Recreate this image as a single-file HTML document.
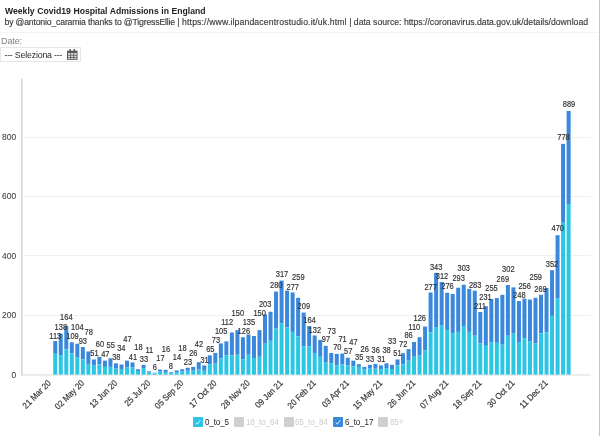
<!DOCTYPE html>
<html><head><meta charset="utf-8"><title>Weekly Covid19 Hospital Admissions in England</title>
<style>
html,body{margin:0;padding:0;background:#fff;}
body{width:600px;height:436px;position:relative;overflow:hidden;will-change:transform;font-family:"Liberation Sans",Arial,sans-serif;}
.title{position:absolute;left:5px;top:4.0px;font-size:9.9px;font-weight:bold;color:#222;white-space:nowrap;word-spacing:0.2px;line-height:14px;transform:scaleX(0.875);transform-origin:0 0;}
.sub{position:absolute;top:16.2px;font-size:8.66px;white-space:pre;color:#3a3a3a;-webkit-text-stroke:0.15px #3a3a3a;line-height:12px;}
.hr{position:absolute;left:0;top:32px;width:598px;height:1px;background:#f3f3f3;}
.date{position:absolute;left:1px;top:34.8px;font-size:9px;letter-spacing:-0.1px;color:#808080;line-height:12px;}
.sel{position:absolute;left:0px;top:47px;width:78.5px;height:13px;border:1px solid #e6e6e6;box-sizing:content-box;}
.sel span{position:absolute;left:3.4px;top:0.5px;font-size:8.8px;letter-spacing:-0.19px;color:#2a2a2a;line-height:13px;white-space:nowrap;}
.rb{position:absolute;left:598.5px;top:0;width:1.5px;height:436px;background:#c4c4c4;}
svg{position:absolute;left:0;top:0;}
.yl{font-size:9.2px;fill:#444;stroke:#444;stroke-width:0.1px;text-anchor:end;}
.bl{font-size:8.3px;fill:#333;stroke:#333;stroke-width:0.18px;text-anchor:middle;}
.xl{font-size:8.7px;fill:#333;stroke:#333;stroke-width:0.18px;text-anchor:end;}
.leg{position:absolute;top:416.8px;height:10px;font-size:9.3px;line-height:10px;white-space:nowrap;letter-spacing:-0.1px;transform:scaleX(0.86);transform-origin:0 0;}
.cb{position:absolute;top:417px;width:10px;height:10px;border-radius:1px;}
</style></head><body>
<div class="title">Weekly Covid19 Hospital Admissions in England</div>
<div class="sub" style="left:4.5px;letter-spacing:-0.164px">by @antonio_caramia thanks to @TigressEllie </div><div class="sub" style="left:177.2px;letter-spacing:0.137px">| https://www.ilpandacentrostudio.it/uk.html </div><div class="sub" style="left:349.2px;letter-spacing:0px">| data source: https://coronavirus.data.gov.uk/details/download</div>
<div class="hr"></div>
<div class="date">Date:</div>
<div class="sel"><span>--- Seleziona ---</span>
<svg width="11" height="11" viewBox="0 0 11 11" style="left:66px;top:1px">
<rect x="0" y="1.7" width="10.5" height="9.2" fill="#585858"/>
<rect x="2.4" y="0" width="1.5" height="2.6" fill="#585858"/><rect x="6.6" y="0" width="1.5" height="2.6" fill="#585858"/>
<g fill="#e4e4e4"><rect x="1" y="4" width="2.2" height="1.8"/><rect x="4.1" y="4" width="2.2" height="1.8"/><rect x="7.2" y="4" width="2.3" height="1.8"/>
<rect x="1" y="6.6" width="2.2" height="1.5"/><rect x="4.1" y="6.6" width="2.2" height="1.5"/><rect x="7.2" y="6.6" width="2.3" height="1.5"/>
<rect x="1" y="8.9" width="2.2" height="1.2"/><rect x="4.1" y="8.9" width="2.2" height="1.2"/><rect x="7.2" y="8.9" width="2.3" height="1.2"/></g>
</svg></div>
<svg width="600" height="436" viewBox="0 0 600 436" style="font-family:'Liberation Sans',Arial,sans-serif">
<line x1="21" y1="315.5" x2="591" y2="315.5" stroke="#f1f1f1" stroke-width="1"/>
<text transform="translate(16.1,318.0) scale(0.92,1)" class="yl">200</text>
<line x1="21" y1="255.5" x2="591" y2="255.5" stroke="#f1f1f1" stroke-width="1"/>
<text transform="translate(16.1,258.7) scale(0.92,1)" class="yl">400</text>
<line x1="21" y1="196.5" x2="591" y2="196.5" stroke="#f1f1f1" stroke-width="1"/>
<text transform="translate(16.1,199.3) scale(0.92,1)" class="yl">600</text>
<line x1="21" y1="137.5" x2="591" y2="137.5" stroke="#f1f1f1" stroke-width="1"/>
<text transform="translate(16.1,140.0) scale(0.92,1)" class="yl">800</text>
<text transform="translate(16.1,377.7) scale(0.92,1)" class="yl">0</text>
<line x1="21" y1="375" x2="591" y2="375" stroke="#dcdcdc" stroke-width="1.2"/>
<line x1="21.8" y1="78.8" x2="21.8" y2="375.6" stroke="#d6d6d6" stroke-width="1.6"/>
<rect x="53.25" y="341.08" width="4.0" height="12.75" fill="#3a88dc"/>
<rect x="53.25" y="353.84" width="4.0" height="20.76" fill="#2ac6e4"/>
<rect x="58.77" y="333.67" width="4.0" height="21.36" fill="#3a88dc"/>
<rect x="58.77" y="355.02" width="4.0" height="19.58" fill="#2ac6e4"/>
<rect x="64.29" y="325.96" width="4.0" height="23.43" fill="#3a88dc"/>
<rect x="64.29" y="349.39" width="4.0" height="25.21" fill="#2ac6e4"/>
<rect x="69.81" y="342.27" width="4.0" height="11.27" fill="#3a88dc"/>
<rect x="69.81" y="353.54" width="4.0" height="21.06" fill="#2ac6e4"/>
<rect x="75.33" y="343.75" width="4.0" height="13.94" fill="#3a88dc"/>
<rect x="75.33" y="357.69" width="4.0" height="16.91" fill="#2ac6e4"/>
<rect x="80.85" y="347.02" width="4.0" height="12.46" fill="#3a88dc"/>
<rect x="80.85" y="359.47" width="4.0" height="15.13" fill="#2ac6e4"/>
<rect x="86.37" y="351.47" width="4.0" height="12.46" fill="#3a88dc"/>
<rect x="86.37" y="363.92" width="4.0" height="10.68" fill="#2ac6e4"/>
<rect x="91.89" y="359.47" width="4.0" height="6.23" fill="#3a88dc"/>
<rect x="91.89" y="365.70" width="4.0" height="8.90" fill="#2ac6e4"/>
<rect x="97.41" y="356.80" width="4.0" height="7.71" fill="#3a88dc"/>
<rect x="97.41" y="364.52" width="4.0" height="10.08" fill="#2ac6e4"/>
<rect x="102.93" y="360.66" width="4.0" height="6.23" fill="#3a88dc"/>
<rect x="102.93" y="366.89" width="4.0" height="7.71" fill="#2ac6e4"/>
<rect x="108.45" y="358.29" width="4.0" height="8.60" fill="#3a88dc"/>
<rect x="108.45" y="366.89" width="4.0" height="7.71" fill="#2ac6e4"/>
<rect x="113.97" y="363.33" width="4.0" height="5.34" fill="#3a88dc"/>
<rect x="113.97" y="368.67" width="4.0" height="5.93" fill="#2ac6e4"/>
<rect x="119.49" y="364.52" width="4.0" height="4.45" fill="#3a88dc"/>
<rect x="119.49" y="368.96" width="4.0" height="5.64" fill="#2ac6e4"/>
<rect x="125.01" y="360.66" width="4.0" height="6.82" fill="#3a88dc"/>
<rect x="125.01" y="367.48" width="4.0" height="7.12" fill="#2ac6e4"/>
<rect x="130.53" y="362.44" width="4.0" height="5.04" fill="#3a88dc"/>
<rect x="130.53" y="367.48" width="4.0" height="7.12" fill="#2ac6e4"/>
<rect x="136.05" y="369.26" width="4.0" height="1.78" fill="#3a88dc"/>
<rect x="136.05" y="371.04" width="4.0" height="3.56" fill="#2ac6e4"/>
<rect x="141.57" y="364.81" width="4.0" height="3.26" fill="#3a88dc"/>
<rect x="141.57" y="368.07" width="4.0" height="6.53" fill="#2ac6e4"/>
<rect x="147.09" y="371.34" width="4.0" height="1.19" fill="#3a88dc"/>
<rect x="147.09" y="372.52" width="4.0" height="2.08" fill="#2ac6e4"/>
<rect x="152.61" y="372.82" width="4.0" height="0.59" fill="#3a88dc"/>
<rect x="152.61" y="373.41" width="4.0" height="1.19" fill="#2ac6e4"/>
<rect x="158.13" y="369.56" width="4.0" height="2.08" fill="#3a88dc"/>
<rect x="158.13" y="371.63" width="4.0" height="2.97" fill="#2ac6e4"/>
<rect x="163.65" y="369.85" width="4.0" height="2.08" fill="#3a88dc"/>
<rect x="163.65" y="371.93" width="4.0" height="2.67" fill="#2ac6e4"/>
<rect x="169.17" y="372.23" width="4.0" height="0.89" fill="#3a88dc"/>
<rect x="169.17" y="373.12" width="4.0" height="1.48" fill="#2ac6e4"/>
<rect x="174.69" y="370.45" width="4.0" height="1.78" fill="#3a88dc"/>
<rect x="174.69" y="372.23" width="4.0" height="2.37" fill="#2ac6e4"/>
<rect x="180.21" y="369.26" width="4.0" height="2.37" fill="#3a88dc"/>
<rect x="180.21" y="371.63" width="4.0" height="2.97" fill="#2ac6e4"/>
<rect x="185.73" y="367.78" width="4.0" height="2.97" fill="#3a88dc"/>
<rect x="185.73" y="370.74" width="4.0" height="3.86" fill="#2ac6e4"/>
<rect x="191.25" y="366.89" width="4.0" height="3.86" fill="#3a88dc"/>
<rect x="191.25" y="370.74" width="4.0" height="3.86" fill="#2ac6e4"/>
<rect x="196.77" y="362.14" width="4.0" height="7.42" fill="#3a88dc"/>
<rect x="196.77" y="369.56" width="4.0" height="5.04" fill="#2ac6e4"/>
<rect x="202.29" y="365.41" width="4.0" height="5.34" fill="#3a88dc"/>
<rect x="202.29" y="370.74" width="4.0" height="3.86" fill="#2ac6e4"/>
<rect x="207.81" y="355.32" width="4.0" height="8.90" fill="#3a88dc"/>
<rect x="207.81" y="364.22" width="4.0" height="10.38" fill="#2ac6e4"/>
<rect x="213.33" y="352.95" width="4.0" height="10.68" fill="#3a88dc"/>
<rect x="213.33" y="363.63" width="4.0" height="10.97" fill="#2ac6e4"/>
<rect x="218.85" y="343.46" width="4.0" height="14.83" fill="#3a88dc"/>
<rect x="218.85" y="358.29" width="4.0" height="16.31" fill="#2ac6e4"/>
<rect x="224.37" y="341.38" width="4.0" height="13.94" fill="#3a88dc"/>
<rect x="224.37" y="355.32" width="4.0" height="19.28" fill="#2ac6e4"/>
<rect x="229.89" y="332.48" width="4.0" height="22.84" fill="#3a88dc"/>
<rect x="229.89" y="355.32" width="4.0" height="19.28" fill="#2ac6e4"/>
<rect x="235.41" y="330.11" width="4.0" height="24.62" fill="#3a88dc"/>
<rect x="235.41" y="354.73" width="4.0" height="19.87" fill="#2ac6e4"/>
<rect x="240.93" y="337.23" width="4.0" height="21.95" fill="#3a88dc"/>
<rect x="240.93" y="359.18" width="4.0" height="15.42" fill="#2ac6e4"/>
<rect x="246.45" y="334.56" width="4.0" height="20.17" fill="#3a88dc"/>
<rect x="246.45" y="354.73" width="4.0" height="19.87" fill="#2ac6e4"/>
<rect x="251.97" y="336.04" width="4.0" height="21.95" fill="#3a88dc"/>
<rect x="251.97" y="357.99" width="4.0" height="16.61" fill="#2ac6e4"/>
<rect x="257.49" y="330.11" width="4.0" height="26.69" fill="#3a88dc"/>
<rect x="257.49" y="356.80" width="4.0" height="17.80" fill="#2ac6e4"/>
<rect x="263.01" y="314.39" width="4.0" height="29.36" fill="#3a88dc"/>
<rect x="263.01" y="343.75" width="4.0" height="30.85" fill="#2ac6e4"/>
<rect x="268.53" y="311.72" width="4.0" height="29.07" fill="#3a88dc"/>
<rect x="268.53" y="340.79" width="4.0" height="33.81" fill="#2ac6e4"/>
<rect x="274.05" y="291.55" width="4.0" height="37.07" fill="#3a88dc"/>
<rect x="274.05" y="328.63" width="4.0" height="45.97" fill="#2ac6e4"/>
<rect x="279.57" y="280.58" width="4.0" height="42.71" fill="#3a88dc"/>
<rect x="279.57" y="323.29" width="4.0" height="51.31" fill="#2ac6e4"/>
<rect x="285.09" y="290.66" width="4.0" height="36.78" fill="#3a88dc"/>
<rect x="285.09" y="327.44" width="4.0" height="47.16" fill="#2ac6e4"/>
<rect x="290.61" y="292.44" width="4.0" height="39.45" fill="#3a88dc"/>
<rect x="290.61" y="331.89" width="4.0" height="42.71" fill="#2ac6e4"/>
<rect x="296.13" y="297.78" width="4.0" height="38.56" fill="#3a88dc"/>
<rect x="296.13" y="336.34" width="4.0" height="38.26" fill="#2ac6e4"/>
<rect x="301.65" y="312.61" width="4.0" height="33.52" fill="#3a88dc"/>
<rect x="301.65" y="346.13" width="4.0" height="28.47" fill="#2ac6e4"/>
<rect x="307.17" y="325.96" width="4.0" height="20.17" fill="#3a88dc"/>
<rect x="307.17" y="346.13" width="4.0" height="28.47" fill="#2ac6e4"/>
<rect x="312.69" y="335.45" width="4.0" height="17.50" fill="#3a88dc"/>
<rect x="312.69" y="352.95" width="4.0" height="21.65" fill="#2ac6e4"/>
<rect x="318.21" y="339.90" width="4.0" height="16.91" fill="#3a88dc"/>
<rect x="318.21" y="356.80" width="4.0" height="17.80" fill="#2ac6e4"/>
<rect x="323.73" y="345.83" width="4.0" height="16.31" fill="#3a88dc"/>
<rect x="323.73" y="362.14" width="4.0" height="12.46" fill="#2ac6e4"/>
<rect x="329.25" y="352.95" width="4.0" height="10.68" fill="#3a88dc"/>
<rect x="329.25" y="363.63" width="4.0" height="10.97" fill="#2ac6e4"/>
<rect x="334.77" y="353.84" width="4.0" height="11.57" fill="#3a88dc"/>
<rect x="334.77" y="365.41" width="4.0" height="9.19" fill="#2ac6e4"/>
<rect x="340.29" y="353.54" width="4.0" height="10.68" fill="#3a88dc"/>
<rect x="340.29" y="364.22" width="4.0" height="10.38" fill="#2ac6e4"/>
<rect x="345.81" y="357.69" width="4.0" height="7.71" fill="#3a88dc"/>
<rect x="345.81" y="365.41" width="4.0" height="9.19" fill="#2ac6e4"/>
<rect x="351.33" y="360.66" width="4.0" height="5.64" fill="#3a88dc"/>
<rect x="351.33" y="366.30" width="4.0" height="8.30" fill="#2ac6e4"/>
<rect x="356.85" y="364.22" width="4.0" height="2.67" fill="#3a88dc"/>
<rect x="356.85" y="366.89" width="4.0" height="7.71" fill="#2ac6e4"/>
<rect x="362.37" y="366.89" width="4.0" height="2.67" fill="#3a88dc"/>
<rect x="362.37" y="369.56" width="4.0" height="5.04" fill="#2ac6e4"/>
<rect x="367.89" y="364.81" width="4.0" height="3.86" fill="#3a88dc"/>
<rect x="367.89" y="368.67" width="4.0" height="5.93" fill="#2ac6e4"/>
<rect x="373.41" y="363.92" width="4.0" height="4.75" fill="#3a88dc"/>
<rect x="373.41" y="368.67" width="4.0" height="5.93" fill="#2ac6e4"/>
<rect x="378.93" y="365.41" width="4.0" height="3.86" fill="#3a88dc"/>
<rect x="378.93" y="369.26" width="4.0" height="5.34" fill="#2ac6e4"/>
<rect x="384.45" y="363.33" width="4.0" height="4.75" fill="#3a88dc"/>
<rect x="384.45" y="368.07" width="4.0" height="6.53" fill="#2ac6e4"/>
<rect x="389.97" y="364.81" width="4.0" height="4.15" fill="#3a88dc"/>
<rect x="389.97" y="368.96" width="4.0" height="5.64" fill="#2ac6e4"/>
<rect x="395.49" y="359.47" width="4.0" height="5.93" fill="#3a88dc"/>
<rect x="395.49" y="365.41" width="4.0" height="9.19" fill="#2ac6e4"/>
<rect x="401.01" y="353.24" width="4.0" height="11.27" fill="#3a88dc"/>
<rect x="401.01" y="364.52" width="4.0" height="10.08" fill="#2ac6e4"/>
<rect x="406.53" y="349.09" width="4.0" height="11.57" fill="#3a88dc"/>
<rect x="406.53" y="360.66" width="4.0" height="13.94" fill="#2ac6e4"/>
<rect x="412.05" y="341.97" width="4.0" height="14.83" fill="#3a88dc"/>
<rect x="412.05" y="356.80" width="4.0" height="17.80" fill="#2ac6e4"/>
<rect x="417.57" y="337.23" width="4.0" height="18.39" fill="#3a88dc"/>
<rect x="417.57" y="355.62" width="4.0" height="18.98" fill="#2ac6e4"/>
<rect x="423.09" y="326.55" width="4.0" height="23.73" fill="#3a88dc"/>
<rect x="423.09" y="350.28" width="4.0" height="24.32" fill="#2ac6e4"/>
<rect x="428.61" y="292.44" width="4.0" height="39.74" fill="#3a88dc"/>
<rect x="428.61" y="332.19" width="4.0" height="42.41" fill="#2ac6e4"/>
<rect x="434.13" y="272.87" width="4.0" height="54.87" fill="#3a88dc"/>
<rect x="434.13" y="327.74" width="4.0" height="46.86" fill="#2ac6e4"/>
<rect x="439.65" y="282.06" width="4.0" height="43.60" fill="#3a88dc"/>
<rect x="439.65" y="325.66" width="4.0" height="48.94" fill="#2ac6e4"/>
<rect x="445.17" y="292.74" width="4.0" height="37.37" fill="#3a88dc"/>
<rect x="445.17" y="330.11" width="4.0" height="44.49" fill="#2ac6e4"/>
<rect x="450.69" y="293.92" width="4.0" height="39.15" fill="#3a88dc"/>
<rect x="450.69" y="333.08" width="4.0" height="41.52" fill="#2ac6e4"/>
<rect x="456.21" y="287.70" width="4.0" height="44.19" fill="#3a88dc"/>
<rect x="456.21" y="331.89" width="4.0" height="42.71" fill="#2ac6e4"/>
<rect x="461.73" y="284.73" width="4.0" height="41.23" fill="#3a88dc"/>
<rect x="461.73" y="325.96" width="4.0" height="48.64" fill="#2ac6e4"/>
<rect x="467.25" y="288.88" width="4.0" height="43.01" fill="#3a88dc"/>
<rect x="467.25" y="331.89" width="4.0" height="42.71" fill="#2ac6e4"/>
<rect x="472.77" y="290.66" width="4.0" height="45.08" fill="#3a88dc"/>
<rect x="472.77" y="335.75" width="4.0" height="38.85" fill="#2ac6e4"/>
<rect x="478.29" y="312.02" width="4.0" height="31.44" fill="#3a88dc"/>
<rect x="478.29" y="343.46" width="4.0" height="31.14" fill="#2ac6e4"/>
<rect x="483.81" y="306.09" width="4.0" height="39.74" fill="#3a88dc"/>
<rect x="483.81" y="345.83" width="4.0" height="28.77" fill="#2ac6e4"/>
<rect x="489.33" y="298.97" width="4.0" height="43.60" fill="#3a88dc"/>
<rect x="489.33" y="342.57" width="4.0" height="32.03" fill="#2ac6e4"/>
<rect x="494.85" y="298.08" width="4.0" height="44.79" fill="#3a88dc"/>
<rect x="494.85" y="342.86" width="4.0" height="31.74" fill="#2ac6e4"/>
<rect x="500.37" y="294.81" width="4.0" height="49.83" fill="#3a88dc"/>
<rect x="500.37" y="344.64" width="4.0" height="29.96" fill="#2ac6e4"/>
<rect x="505.89" y="285.03" width="4.0" height="50.72" fill="#3a88dc"/>
<rect x="505.89" y="335.75" width="4.0" height="38.85" fill="#2ac6e4"/>
<rect x="511.41" y="287.40" width="4.0" height="46.27" fill="#3a88dc"/>
<rect x="511.41" y="333.67" width="4.0" height="40.93" fill="#2ac6e4"/>
<rect x="516.93" y="301.04" width="4.0" height="40.93" fill="#3a88dc"/>
<rect x="516.93" y="341.97" width="4.0" height="32.63" fill="#2ac6e4"/>
<rect x="522.45" y="298.67" width="4.0" height="39.45" fill="#3a88dc"/>
<rect x="522.45" y="338.12" width="4.0" height="36.48" fill="#2ac6e4"/>
<rect x="527.97" y="299.56" width="4.0" height="41.52" fill="#3a88dc"/>
<rect x="527.97" y="341.08" width="4.0" height="33.52" fill="#2ac6e4"/>
<rect x="533.49" y="297.78" width="4.0" height="45.68" fill="#3a88dc"/>
<rect x="533.49" y="343.46" width="4.0" height="31.14" fill="#2ac6e4"/>
<rect x="539.01" y="294.81" width="4.0" height="38.56" fill="#3a88dc"/>
<rect x="539.01" y="333.37" width="4.0" height="41.23" fill="#2ac6e4"/>
<rect x="544.53" y="287.99" width="4.0" height="44.49" fill="#3a88dc"/>
<rect x="544.53" y="332.48" width="4.0" height="42.12" fill="#2ac6e4"/>
<rect x="550.05" y="270.20" width="4.0" height="45.68" fill="#3a88dc"/>
<rect x="550.05" y="315.87" width="4.0" height="58.73" fill="#2ac6e4"/>
<rect x="555.57" y="235.20" width="4.0" height="62.88" fill="#3a88dc"/>
<rect x="555.57" y="298.08" width="4.0" height="76.52" fill="#2ac6e4"/>
<rect x="561.09" y="143.85" width="4.0" height="78.90" fill="#3a88dc"/>
<rect x="561.09" y="222.74" width="4.0" height="151.86" fill="#2ac6e4"/>
<rect x="566.61" y="110.92" width="4.0" height="93.13" fill="#3a88dc"/>
<rect x="566.61" y="204.06" width="4.0" height="170.54" fill="#2ac6e4"/>
<text transform="translate(55.3,338.5) scale(0.9,1)" class="bl">113</text>
<text transform="translate(60.8,329.5) scale(0.9,1)" class="bl">138</text>
<text transform="translate(66.3,319.9) scale(0.9,1)" class="bl">164</text>
<text transform="translate(72.5,339.2) scale(0.9,1)" class="bl">109</text>
<text transform="translate(77.3,330.3) scale(0.9,1)" class="bl">104</text>
<text transform="translate(82.8,344.0) scale(0.9,1)" class="bl">93</text>
<text transform="translate(88.7,335.1) scale(0.9,1)" class="bl">78</text>
<text transform="translate(94.5,356.1) scale(0.9,1)" class="bl">51</text>
<text transform="translate(99.9,346.8) scale(0.9,1)" class="bl">60</text>
<text transform="translate(105.3,356.8) scale(0.9,1)" class="bl">47</text>
<text transform="translate(110.7,348.2) scale(0.9,1)" class="bl">55</text>
<text transform="translate(116.3,360.0) scale(0.9,1)" class="bl">38</text>
<text transform="translate(121.3,351.0) scale(0.9,1)" class="bl">34</text>
<text transform="translate(127.4,342.1) scale(0.9,1)" class="bl">47</text>
<text transform="translate(132.9,360.2) scale(0.9,1)" class="bl">41</text>
<text transform="translate(138.4,350.1) scale(0.9,1)" class="bl">18</text>
<text transform="translate(143.9,362.2) scale(0.9,1)" class="bl">33</text>
<text transform="translate(149.4,353.1) scale(0.9,1)" class="bl">11</text>
<text transform="translate(154.7,370.1) scale(0.9,1)" class="bl">6</text>
<text transform="translate(160.5,361.2) scale(0.9,1)" class="bl">17</text>
<text transform="translate(166.0,352.2) scale(0.9,1)" class="bl">16</text>
<text transform="translate(170.9,369.0) scale(0.9,1)" class="bl">8</text>
<text transform="translate(177.0,360.2) scale(0.9,1)" class="bl">14</text>
<text transform="translate(182.5,351.2) scale(0.9,1)" class="bl">18</text>
<text transform="translate(188.0,365.0) scale(0.9,1)" class="bl">23</text>
<text transform="translate(193.3,356.4) scale(0.9,1)" class="bl">26</text>
<text transform="translate(198.9,346.8) scale(0.9,1)" class="bl">42</text>
<text transform="translate(204.6,362.8) scale(0.9,1)" class="bl">31</text>
<text transform="translate(210.3,352.4) scale(0.9,1)" class="bl">65</text>
<text transform="translate(215.9,343.1) scale(0.9,1)" class="bl">73</text>
<text transform="translate(221.1,334.3) scale(0.9,1)" class="bl">105</text>
<text transform="translate(227.2,325.2) scale(0.9,1)" class="bl">112</text>
<text transform="translate(237.8,316.1) scale(0.9,1)" class="bl">150</text>
<text transform="translate(243.8,333.9) scale(0.9,1)" class="bl">126</text>
<text transform="translate(248.9,325.2) scale(0.9,1)" class="bl">135</text>
<text transform="translate(259.6,316.2) scale(0.9,1)" class="bl">150</text>
<text transform="translate(265.1,307.0) scale(0.9,1)" class="bl">203</text>
<text transform="translate(276.2,288.2) scale(0.9,1)" class="bl">280</text>
<text transform="translate(282.0,277.2) scale(0.9,1)" class="bl">317</text>
<text transform="translate(292.7,289.6) scale(0.9,1)" class="bl">277</text>
<text transform="translate(298.3,280.4) scale(0.9,1)" class="bl">259</text>
<text transform="translate(303.8,309.1) scale(0.9,1)" class="bl">209</text>
<text transform="translate(309.5,322.8) scale(0.9,1)" class="bl">164</text>
<text transform="translate(314.8,332.7) scale(0.9,1)" class="bl">132</text>
<text transform="translate(326.0,342.4) scale(0.9,1)" class="bl">97</text>
<text transform="translate(331.7,333.5) scale(0.9,1)" class="bl">73</text>
<text transform="translate(337.3,350.4) scale(0.9,1)" class="bl">70</text>
<text transform="translate(342.6,341.8) scale(0.9,1)" class="bl">71</text>
<text transform="translate(348.2,353.7) scale(0.9,1)" class="bl">57</text>
<text transform="translate(353.5,345.1) scale(0.9,1)" class="bl">47</text>
<text transform="translate(359.2,360.4) scale(0.9,1)" class="bl">35</text>
<text transform="translate(364.7,352.4) scale(0.9,1)" class="bl">26</text>
<text transform="translate(370.0,361.7) scale(0.9,1)" class="bl">33</text>
<text transform="translate(375.7,353.1) scale(0.9,1)" class="bl">36</text>
<text transform="translate(381.3,362.4) scale(0.9,1)" class="bl">31</text>
<text transform="translate(386.6,353.1) scale(0.9,1)" class="bl">38</text>
<text transform="translate(392.2,343.8) scale(0.9,1)" class="bl">33</text>
<text transform="translate(397.5,355.7) scale(0.9,1)" class="bl">51</text>
<text transform="translate(403.2,346.9) scale(0.9,1)" class="bl">72</text>
<text transform="translate(408.6,338.1) scale(0.9,1)" class="bl">86</text>
<text transform="translate(414.3,329.5) scale(0.9,1)" class="bl">110</text>
<text transform="translate(419.7,320.5) scale(0.9,1)" class="bl">126</text>
<text transform="translate(430.6,289.9) scale(0.9,1)" class="bl">277</text>
<text transform="translate(436.1,270.0) scale(0.9,1)" class="bl">343</text>
<text transform="translate(442.0,278.9) scale(0.9,1)" class="bl">312</text>
<text transform="translate(447.5,289.3) scale(0.9,1)" class="bl">276</text>
<text transform="translate(458.6,280.7) scale(0.9,1)" class="bl">293</text>
<text transform="translate(463.7,271.1) scale(0.9,1)" class="bl">303</text>
<text transform="translate(475.1,287.9) scale(0.9,1)" class="bl">283</text>
<text transform="translate(480.0,309.2) scale(0.9,1)" class="bl">211</text>
<text transform="translate(485.5,299.9) scale(0.9,1)" class="bl">231</text>
<text transform="translate(491.5,290.6) scale(0.9,1)" class="bl">255</text>
<text transform="translate(502.8,281.7) scale(0.9,1)" class="bl">269</text>
<text transform="translate(508.3,272.3) scale(0.9,1)" class="bl">302</text>
<text transform="translate(519.3,297.5) scale(0.9,1)" class="bl">248</text>
<text transform="translate(524.6,289.2) scale(0.9,1)" class="bl">256</text>
<text transform="translate(535.7,280.3) scale(0.9,1)" class="bl">259</text>
<text transform="translate(540.5,292.4) scale(0.9,1)" class="bl">269</text>
<text transform="translate(552.0,266.6) scale(0.9,1)" class="bl">352</text>
<text transform="translate(557.7,231.4) scale(0.9,1)" class="bl">470</text>
<text transform="translate(563.5,140.2) scale(0.9,1)" class="bl">778</text>
<text transform="translate(569.0,107.2) scale(0.9,1)" class="bl">889</text>
<text transform="translate(51.5,383.7) rotate(-45) scale(0.92,1)" class="xl">21 Mar 20</text>
<text transform="translate(84.7,383.7) rotate(-45) scale(0.92,1)" class="xl">02 May 20</text>
<text transform="translate(117.8,383.7) rotate(-45) scale(0.92,1)" class="xl">13 Jun 20</text>
<text transform="translate(150.9,383.7) rotate(-45) scale(0.92,1)" class="xl">25 Jul 20</text>
<text transform="translate(184.0,383.7) rotate(-45) scale(0.92,1)" class="xl">05 Sep 20</text>
<text transform="translate(217.2,383.7) rotate(-45) scale(0.92,1)" class="xl">17 Oct 20</text>
<text transform="translate(250.3,383.7) rotate(-45) scale(0.92,1)" class="xl">28 Nov 20</text>
<text transform="translate(283.4,383.7) rotate(-45) scale(0.92,1)" class="xl">09 Jan 21</text>
<text transform="translate(316.5,383.7) rotate(-45) scale(0.92,1)" class="xl">20 Feb 21</text>
<text transform="translate(349.6,383.7) rotate(-45) scale(0.92,1)" class="xl">03 Apr 21</text>
<text transform="translate(382.8,383.7) rotate(-45) scale(0.92,1)" class="xl">15 May 21</text>
<text transform="translate(415.9,383.7) rotate(-45) scale(0.92,1)" class="xl">26 Jun 21</text>
<text transform="translate(449.0,383.7) rotate(-45) scale(0.92,1)" class="xl">07 Aug 21</text>
<text transform="translate(482.1,383.7) rotate(-45) scale(0.92,1)" class="xl">18 Sep 21</text>
<text transform="translate(515.2,383.7) rotate(-45) scale(0.92,1)" class="xl">30 Oct 21</text>
<text transform="translate(548.3,383.7) rotate(-45) scale(0.92,1)" class="xl">11 Dec 21</text>
</svg>
<div class="cb" style="left:193px;background:#2ac6e4"><svg width="10" height="10" viewBox="0 0 10 10"><path d="M3 5.6 L4.2 7.2 L7.3 3.2" stroke="#e8fbff" stroke-width="0.9" fill="none"/></svg></div>
<div class="leg" style="left:205px;color:#222">0_to_5</div>
<div class="cb" style="left:234px;background:#d0d0d0"></div>
<div class="leg" style="left:246px;color:#cdcdcd">18_to_64</div>
<div class="cb" style="left:283.5px;background:#d0d0d0"></div>
<div class="leg" style="left:295px;color:#cdcdcd">65_to_84</div>
<div class="cb" style="left:332.5px;background:#3a88dc"><svg width="10" height="10" viewBox="0 0 10 10"><path d="M3 5.6 L4.2 7.2 L7.3 3.2" stroke="#e8fbff" stroke-width="0.9" fill="none"/></svg></div>
<div class="leg" style="left:345px;color:#222">6_to_17</div>
<div class="cb" style="left:378px;background:#d0d0d0"></div>
<div class="leg" style="left:390px;color:#cdcdcd">85+</div>
<div class="rb"></div>
</body></html>
